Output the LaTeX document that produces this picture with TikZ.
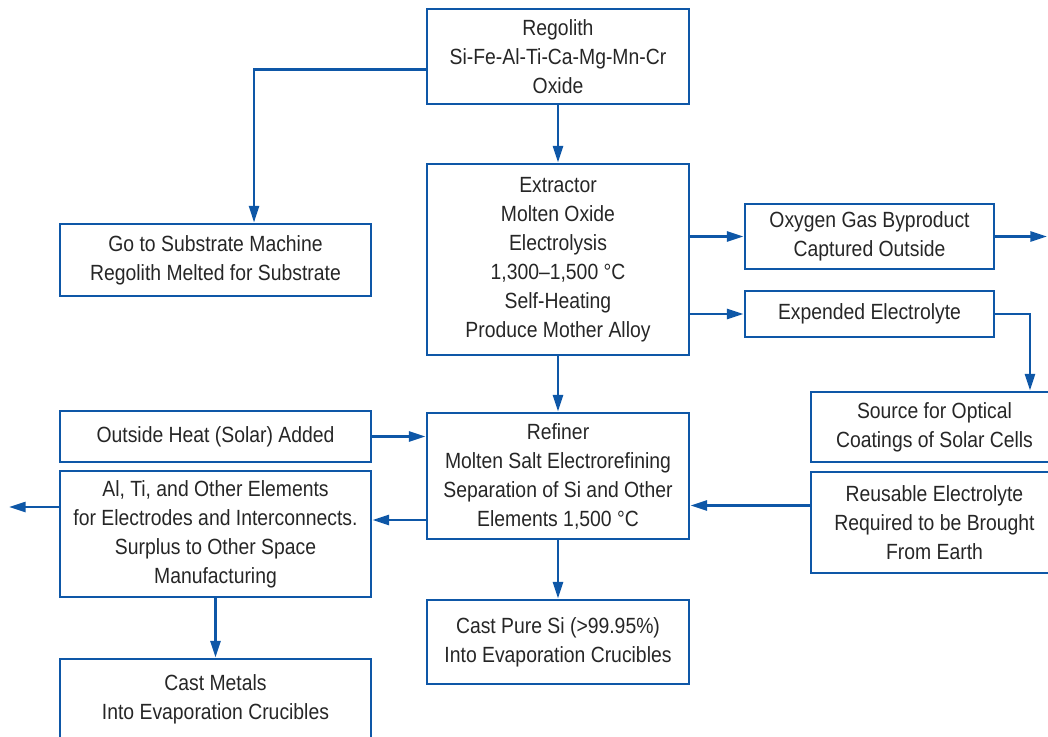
\documentclass[tikz,border=0pt]{standalone}
\usepackage{fontspec}
\setmainfont{Liberation Sans}[FakeStretch=0.88]
\usetikzlibrary{arrows.meta}
\definecolor{fblue}{RGB}{14,87,167}
\begin{document}
\begin{tikzpicture}[x=0.75pt,y=-0.75pt,
  box/.style={draw=fblue,line width=2.2pt,inner sep=0pt,align=center,
    font=\fontsize{16.5}{21.75}\selectfont,text=black!85},
  conn/.style={draw=fblue,line width=1.9pt,-{Triangle[length=12.5pt,width=7.5pt]}}]
\useasboundingbox (0,0) rectangle (1048,737);
\clip (0,0) rectangle (1048,737);
\node[box,minimum width=196.5pt,minimum height=71.25pt] (reg) at (558,56.5) {Regolith\\Si-Fe-Al-Ti-Ca-Mg-Mn-Cr\\Oxide};
\node[box,minimum width=196.5pt,minimum height=143.25pt] (ext) at (558,259.5) {Extractor\\Molten Oxide\\Electrolysis\\1,300–1,500 °C\\Self-Heating\\Produce Mother Alloy};
\node[box,minimum width=233.25pt,minimum height=54pt] (sub) at (215.5,260) {Go to Substrate Machine\\Regolith Melted for Substrate};
\node[box,minimum width=186.75pt,minimum height=48.75pt] (oxy) at (869.5,236.5) {Oxygen Gas Byproduct\\Captured Outside};
\node[box,minimum width=186.75pt,minimum height=34.5pt] (exp) at (869.5,314) {Expended Electrolyte};
\node[box,minimum width=185.25pt,minimum height=52.5pt] (src) at (934.5,427) {Source for Optical\\Coatings of Solar Cells};
\node[box,minimum width=185.25pt,minimum height=75.75pt] (reu) at (934.5,522.5) {Reusable Electrolyte\\Required to be Brought\\From Earth};
\node[box,minimum width=233.25pt,minimum height=38.25pt] (heat) at (215.5,436.5) {Outside Heat (Solar) Added};
\node[box,minimum width=233.25pt,minimum height=94.5pt] (alti) at (215.5,534) {Al, Ti, and Other Elements\\for Electrodes and Interconnects.\\Surplus to Other Space\\Manufacturing};
\node[box,minimum width=196.5pt,minimum height=94.5pt] (ref) at (558,476) {Refiner\\Molten Salt Electrorefining\\Separation of Si and Other\\Elements 1,500 °C};
\node[box,minimum width=196.5pt,minimum height=63pt] (si) at (558,642) {Cast Pure Si (>99.95\%)\\Into Evaporation Crucibles};
\node[box,minimum width=233.25pt,minimum height=60.75pt] (cm) at (215.5,699.5) {Cast Metals\\Into Evaporation Crucibles};
% connectors
\coordinate (g1) at ([yshift=-9.75pt]reg.west);
\coordinate (g2) at ([xshift=28.9pt]sub.north);
\draw[conn] (g1) -| (g2);
\draw[conn] (reg.south) -- (ext.north);
\draw[conn] (ext.east |- oxy.west) -- (oxy.west);
\draw[conn] (ext.east |- exp.west) -- (exp.west);
\coordinate (oout) at (1047,237);
\draw[conn] (oxy.east) -- (oxy.east -| oout);
\coordinate (s1) at ([xshift=71.6pt]src.north);
\draw[conn] (exp.east) -| (s1);
\draw[conn] (ext.south) -- (ref.north);
\draw[conn] (heat.east) -- (heat.east -| ref.west);
\coordinate (r1) at ([yshift=12.75pt]reu.west);
\draw[conn] (r1) -- (r1 -| ref.east);
\coordinate (r2) at ([yshift=-33pt]ref.west);
\draw[conn] (r2) -- (r2 -| alti.east);
\coordinate (a1) at ([yshift=20.25pt]alti.west);
\coordinate (aout) at (9,507);
\draw[conn] (a1) -- (a1 -| aout);
\draw[conn] (alti.south) -- (alti.south |- cm.north);
\draw[conn] (ref.south) -- (si.north);
\end{tikzpicture}
\end{document}
